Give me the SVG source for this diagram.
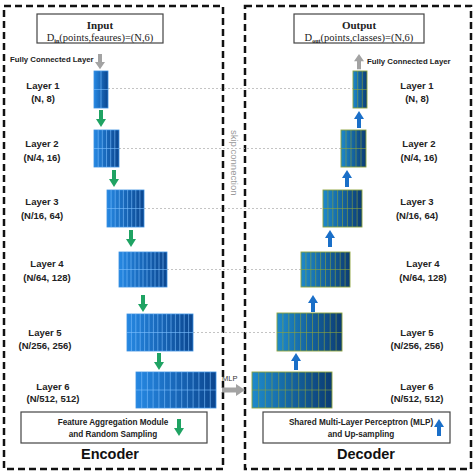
<svg xmlns="http://www.w3.org/2000/svg" width="474" height="474" viewBox="0 0 474 474">
<style>
.frame{fill:none;stroke:#111;stroke-width:2.5;stroke-dasharray:7 4}
.box{fill:#fff;stroke:#444;stroke-width:1.2}
.lbl{font-family:"Liberation Sans",Arial,sans-serif;font-weight:bold;font-size:9.5px;fill:#222;text-anchor:middle}
.small{font-family:"Liberation Sans",Arial,sans-serif;font-weight:bold;font-size:7.8px;fill:#222}
.leg{font-family:"Liberation Sans",Arial,sans-serif;font-weight:bold;font-size:8.2px;fill:#222;text-anchor:middle}
.title{font-family:"Liberation Sans",Arial,sans-serif;font-weight:bold;font-size:14.5px;fill:#111;text-anchor:middle}
.serif{font-family:"Liberation Serif","Times New Roman",serif;font-size:10.5px;fill:#222;text-anchor:middle}
.enc{fill:url(#gEnc);stroke:#3b8fe0;stroke-width:0.8}
.encg{fill:none;stroke:#7cc0ff;stroke-width:0.8;opacity:0.75}
.dec{fill:url(#gDec);stroke:#8da33c;stroke-width:0.9}
.decg{fill:none;stroke:#8da33c;stroke-width:0.7;opacity:0.85}
.skip{fill:none;stroke:#b5b5b5;stroke-width:0.8;stroke-dasharray:2 2}
.green{fill:#1fa363}
.blue{fill:#1a6fc8}
.gray{fill:#a3a3a3}
</style>
<defs>
<linearGradient id="gEnc" x1="0" y1="0" x2="1" y2="0">
<stop offset="0" stop-color="#2688e2"/><stop offset="1" stop-color="#0b468f"/>
</linearGradient>
<linearGradient id="gDec" x1="0" y1="0" x2="1" y2="0">
<stop offset="0" stop-color="#1e8acb"/><stop offset="1" stop-color="#0b3c73"/>
</linearGradient>
<path id="aDown" d="M-2,0 H2 V9 H5 L0,17 L-5,9 H-2 Z"/>
<path id="aUp" d="M-2,17 H2 V8 H5 L0,0 L-5,8 H-2 Z"/>
</defs>
<rect width="474" height="474" fill="#fff"/>

<g id="encoder-frame">
<rect class="frame" x="4" y="6" width="219" height="463"/>
<text class="title" x="110" y="459">Encoder</text>
</g>
<g id="decoder-frame">
<rect class="frame" x="245" y="6" width="226" height="463"/>
<text class="title" x="366" y="459">Decoder</text>
</g>

<g id="input">
<rect class="box" x="37" y="14" width="126" height="29"/>
<text class="serif" x="100" y="29" style="font-weight:bold;font-size:11px">Input</text>
<text class="serif" x="100" y="41">D<tspan font-size="6" dy="2" font-weight="bold">in</tspan><tspan dy="-2">(points,feaures)=(N,6)</tspan></text>
</g>
<g id="output">
<rect class="box" x="294" y="14" width="130" height="29"/>
<text class="serif" x="359" y="29" style="font-weight:bold;font-size:11px">Output</text>
<text class="serif" x="359" y="41">D<tspan font-size="6" dy="2" font-weight="bold">out</tspan><tspan dy="-2">(points,classes)=(N,6)</tspan></text>
</g>

<g id="connectors">
<line class="skip" x1="108" y1="88.5" x2="353" y2="88.5"/>
<line class="skip" x1="119" y1="148.5" x2="341" y2="148.5"/>
<line class="skip" x1="144" y1="208.5" x2="323" y2="208.5"/>
<line class="skip" x1="167" y1="269.5" x2="301" y2="269.5"/>
<line class="skip" x1="193" y1="332.5" x2="277" y2="332.5"/>
<text x="231" y="130" transform="rotate(90 231 130)" style="font-family:'Liberation Sans',Arial,sans-serif;font-size:9.5px;fill:#999">skip connection</text>
<text x="222" y="381" style="font-family:'Liberation Sans',Arial,sans-serif;font-size:7.5px;fill:#333">MLP</text>
<path class="gray" d="M222,387.5 H236 V384 L245,390 L236,396 V392.5 H222 Z"/>
<use href="#aDown" class="gray" transform="translate(100,54) scale(1,0.9)"/>
<use href="#aUp" class="gray" transform="translate(359,54) scale(1,0.9)"/>
<use href="#aDown" class="green" transform="translate(101,110)"/>
<use href="#aDown" class="green" transform="translate(114,170)"/>
<use href="#aDown" class="green" transform="translate(131,230)"/>
<use href="#aDown" class="green" transform="translate(143,295)"/>
<use href="#aDown" class="green" transform="translate(159,353)"/>
<use href="#aUp" class="blue" transform="translate(359,111)"/>
<use href="#aUp" class="blue" transform="translate(347,170)"/>
<use href="#aUp" class="blue" transform="translate(330,230)"/>
<use href="#aUp" class="blue" transform="translate(313,295)"/>
<use href="#aUp" class="blue" transform="translate(296,353)"/>
</g>

<text class="small" x="10" y="62">Fully Connected Layer</text>
<text class="small" x="367" y="64">Fully Connected Layer</text>

<g id="enc-layer1">
<rect class="enc" x="94" y="71" width="14" height="37"/>
<path class="encg" d="M101,71V108M94,89.5H108"/>
<text class="lbl" x="43" y="89">Layer 1</text><text class="lbl" x="43" y="102">(N, 8)</text>
</g>
<g id="enc-layer2">
<rect class="enc" x="94" y="130" width="25" height="37"/>
<path class="encg" d="M98.2,130V167M102.3,130V167M106.5,130V167M110.7,130V167M114.8,130V167M94,148.5H119"/>
<text class="lbl" x="42" y="147">Layer 2</text><text class="lbl" x="42" y="161">(N/4, 16)</text>
</g>
<g id="enc-layer3">
<rect class="enc" x="107" y="190" width="37" height="37"/>
<path class="encg" d="M111.1,190V227M115.2,190V227M119.3,190V227M123.4,190V227M127.6,190V227M131.7,190V227M135.8,190V227M139.9,190V227M107,208.5H144"/>
<text class="lbl" x="42" y="205">Layer 3</text><text class="lbl" x="42" y="219">(N/16, 64)</text>
</g>
<g id="enc-layer4">
<rect class="enc" x="119" y="252" width="48" height="35"/>
<path class="encg" d="M123,252V287M127,252V287M131,252V287M135,252V287M139,252V287M143,252V287M147,252V287M151,252V287M155,252V287M159,252V287M163,252V287M119,269.5H167"/>
<text class="lbl" x="47" y="267">Layer 4</text><text class="lbl" x="47" y="281">(N/64, 128)</text>
</g>
<g id="enc-layer5">
<rect class="enc" x="127" y="314" width="66" height="37"/>
<path class="encg" d="M131.4,314V351M135.8,314V351M140.2,314V351M144.6,314V351M149,314V351M153.4,314V351M157.8,314V351M162.2,314V351M166.6,314V351M171,314V351M175.4,314V351M179.8,314V351M184.2,314V351M188.6,314V351M127,332.5H193"/>
<text class="lbl" x="45" y="336">Layer 5</text><text class="lbl" x="45" y="349">(N/256, 256)</text>
</g>
<g id="enc-layer6">
<rect class="enc" x="136" y="372" width="80" height="36"/>
<path class="encg" d="M141.7,372V408M147.4,372V408M153.1,372V408M158.9,372V408M164.6,372V408M170.3,372V408M176,372V408M181.7,372V408M187.4,372V408M193.1,372V408M198.9,372V408M204.6,372V408M210.3,372V408M136,390H216"/>
<text class="lbl" x="53" y="390">Layer 6</text><text class="lbl" x="53" y="402">(N/512, 512)</text>
</g>

<g id="dec-layer1">
<rect class="dec" x="353" y="71" width="14" height="37"/>
<path class="decg" d="M357.7,71V108M362.3,71V108M353,89.5H367"/>
<text class="lbl" x="417" y="89">Layer 1</text><text class="lbl" x="417" y="102">(N, 8)</text>
</g>
<g id="dec-layer2">
<rect class="dec" x="341" y="130" width="25" height="37"/>
<path class="decg" d="M346,130V167M351,130V167M356,130V167M361,130V167M341,148.5H366"/>
<text class="lbl" x="419" y="147">Layer 2</text><text class="lbl" x="419" y="161">(N/4, 16)</text>
</g>
<g id="dec-layer3">
<rect class="dec" x="323" y="190" width="39" height="37"/>
<path class="decg" d="M327.9,190V227M332.8,190V227M337.6,190V227M342.5,190V227M347.4,190V227M352.3,190V227M357.1,190V227M323,208.5H362"/>
<text class="lbl" x="417" y="205">Layer 3</text><text class="lbl" x="417" y="219">(N/16, 64)</text>
</g>
<g id="dec-layer4">
<rect class="dec" x="301" y="252" width="49" height="35"/>
<path class="decg" d="M305.9,252V287M310.8,252V287M315.7,252V287M320.6,252V287M325.5,252V287M330.4,252V287M335.3,252V287M340.2,252V287M345.1,252V287M301,269.5H350"/>
<text class="lbl" x="423" y="267">Layer 4</text><text class="lbl" x="423" y="281">(N/64, 128)</text>
</g>
<g id="dec-layer5">
<rect class="dec" x="277" y="313" width="65" height="38"/>
<path class="decg" d="M282.9,313V351M288.8,313V351M294.7,313V351M300.6,313V351M306.5,313V351M312.5,313V351M318.4,313V351M324.3,313V351M330.2,313V351M336.1,313V351M277,332.5H342"/>
<text class="lbl" x="417" y="336">Layer 5</text><text class="lbl" x="417" y="349">(N/256, 256)</text>
</g>
<g id="dec-layer6">
<rect class="dec" x="252" y="372" width="80" height="36"/>
<path class="decg" d="M258.7,372V408M265.3,372V408M272,372V408M278.7,372V408M285.3,372V408M292,372V408M298.7,372V408M305.3,372V408M312,372V408M318.7,372V408M325.3,372V408M252,390H332"/>
<text class="lbl" x="417" y="390">Layer 6</text><text class="lbl" x="417" y="402">(N/512, 512)</text>
</g>

<g id="legend-encoder">
<rect class="box" x="21" y="412" width="186" height="31"/>
<text class="leg" x="113" y="425">Feature Aggregation Module</text>
<text class="leg" x="113" y="437">and Random Sampling</text>
<use href="#aDown" class="green" transform="translate(179,419)"/>
</g>
<g id="legend-decoder">
<rect class="box" x="263" y="412" width="187" height="31"/>
<text class="leg" x="361" y="425">Shared Multi-Layer Perceptron (MLP)</text>
<text class="leg" x="361" y="437">and Up-sampling</text>
<use href="#aUp" class="blue" transform="translate(439,419)"/>
</g>
</svg>
